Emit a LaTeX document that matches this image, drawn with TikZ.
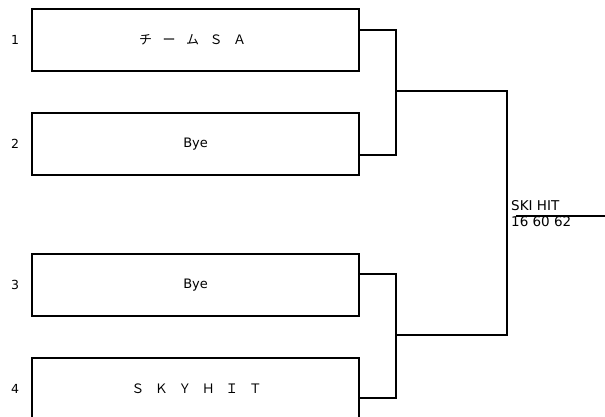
\documentclass[tikz,border=0pt]{standalone}
\usepackage{fontspec}
\setmainfont{DejaVu Sans}
\newfontfamily\jpfont{Noto Sans CJK JP}
\newcommand{\gapjp}{\hspace{10.5pt}}
\begin{document}
\begin{tikzpicture}[x=1pt,y=-1pt,
  teambox/.style={draw=black,line width=2.2pt,minimum width=327pt,minimum height=62pt,inner sep=0pt,anchor=north west},
  jptext/.style={font=\jpfont\fontsize{13}{15}\selectfont},
  entext/.style={font=\fontsize{13}{15}\selectfont},
  seed/.style={font=\fontsize{12.5}{14}\selectfont,anchor=base west,inner sep=0pt},
  wire/.style={line width=2pt,line cap=rect},
  res/.style={font=\fontsize{13.5}{15}\selectfont,anchor=base west,inner sep=0pt}]
\useasboundingbox[fill=white] (0,0) rectangle (605,416);
\node[teambox] (b1) at (31,8) {};
\node[teambox] (b2) at (31,112) {};
\node[teambox] (b3) at (31,253) {};
\node[teambox] (b4) at (31,357) {};
\node[jptext] (t1) at ([xshift=-3pt]b1.center) {チ\gapjp ー\gapjp ム\gapjp Ｓ\gapjp Ａ};
\node[entext] (t2) at (b2.center) {Bye};
\node[entext] (t3) at (b3.center) {Bye};
\node[jptext] (t4) at ([xshift=1pt]b4.center) {Ｓ\gapjp Ｋ\gapjp Ｙ\gapjp Ｈ\gapjp Ｉ\gapjp Ｔ};
\node[seed] (s1) at (11,44) {1};
\node[seed] (s2) at (11,148) {2};
\node[seed] (s3) at (11,289) {3};
\node[seed] (s4) at (11,393) {4};
\coordinate (j1) at (396,91);
\coordinate (j2) at (396,335);
\coordinate (m) at (507,213);
\draw[wire] ([yshift=10pt]b1.east) -| (j1) |- ([yshift=-11pt]b2.east);
\draw[wire] ([yshift=11pt]b3.east) -| (j2) |- ([yshift=-9pt]b4.east);
\draw[wire] (j1) -| (m) |- (j2);
\coordinate (w1) at (516,216);
\coordinate (w2) at (606,216);
\draw[line width=2pt] (w1) -- (w2);
\node[res] (r1) at (511,210.7) {SKI HIT};
\node[res] (r2) at (511,226.7) {16 60 62};
\end{tikzpicture}
\end{document}
